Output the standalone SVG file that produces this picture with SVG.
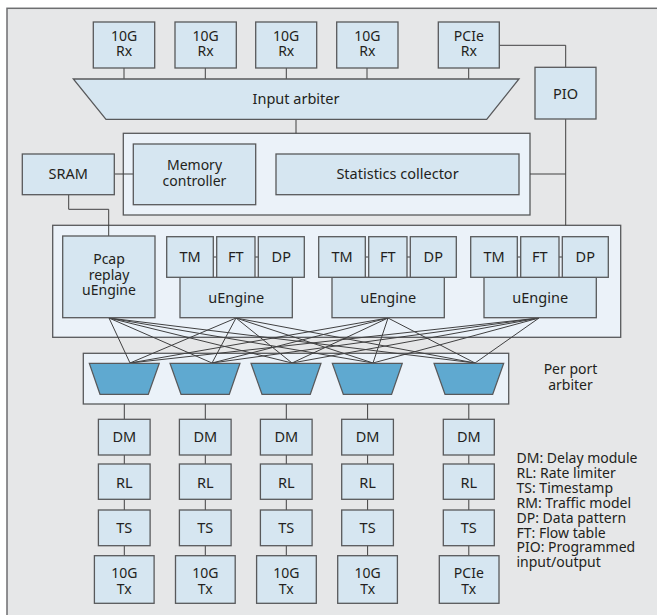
<svg xmlns="http://www.w3.org/2000/svg" width="657" height="615" viewBox="0 0 657 615">
<style>
.bg{fill:#e6e7e8;stroke:#6d6e70;stroke-width:1.5}
.box{fill:#d6e6f1;stroke:#58595b;stroke-width:1.3}
.panel{fill:#ebf2f9;stroke:#58595b;stroke-width:1.3}
.trap{fill:#5fa9d0;stroke:#58595b;stroke-width:1.2}
.t{font-family:"Noto Sans","Open Sans",sans-serif;font-size:14.5px;fill:#231f20;text-anchor:middle}
.m{font-size:14px}
.lg{font-family:"Noto Sans","Open Sans",sans-serif;font-size:14px;fill:#231f20}
.c line,.c path{stroke:#404041;stroke-width:1;fill:none}
</style>
<rect width="657" height="615" fill="#ffffff"/>
<rect class="bg" x="7" y="8.3" width="660" height="620"/>

<!-- panels -->
<g id="stats-block"><rect class="panel" x="123.3" y="133.3" width="406.7" height="81.7"/></g>
<g id="engine-block"><rect class="panel" x="52.7" y="225.3" width="568" height="112"/></g>
<g id="port-arbiter-block"><rect class="panel" x="83.3" y="353.3" width="425.4" height="50.7"/></g>

<!-- connectors -->
<g class="c" id="connectors">
  <line x1="124" y1="68" x2="124" y2="79"/>
  <line x1="205.3" y1="68" x2="205.3" y2="79"/>
  <line x1="286.3" y1="68" x2="286.3" y2="79"/>
  <line x1="367" y1="68" x2="367" y2="79"/>
  <line x1="468.7" y1="68" x2="468.7" y2="79"/>
  <path d="M499.3 45.3H565.7V67.3"/>
  <line x1="565.7" y1="119" x2="565.7" y2="225.3"/>
  <line x1="530" y1="174" x2="565.7" y2="174"/>
  <line x1="296" y1="119.3" x2="296" y2="133.3"/>
  <line x1="114.3" y1="174" x2="133.3" y2="174"/>
  <path d="M68.7 194.7V209.3H108.7V236"/>
  <!-- TM-FT-DP ticks -->
  <line x1="213.3" y1="257" x2="216.7" y2="257"/><line x1="255" y1="257" x2="258.3" y2="257"/>
  <line x1="365.3" y1="257" x2="368.7" y2="257"/><line x1="407" y1="257" x2="410.3" y2="257"/>
  <line x1="517.3" y1="257" x2="520.7" y2="257"/><line x1="559" y1="257" x2="562.3" y2="257"/>
  <!-- crossbar -->
  <path d="M109 318L130 363M109 318L212 363M109 318L292 363M109 318L373 363M109 318L475 363"/>
  <path d="M236 318L130 363M236 318L212 363M236 318L292 363M236 318L373 363M236 318L475 363"/>
  <path d="M388 318L130 363M388 318L212 363M388 318L292 363M388 318L373 363M388 318L475 363"/>
  <path d="M539 318L130 363M539 318L212 363M539 318L292 363M539 318L373 363M539 318L475 363"/>
  <!-- Tx columns -->
  <path d="M124.3 404V419.3M124.3 455V464M124.3 499.3V510M124.3 545.7V555.7"/>
  <path d="M205.3 404V419.3M205.3 455V464M205.3 499.3V510M205.3 545.7V555.7"/>
  <path d="M286.3 404V419.3M286.3 455V464M286.3 499.3V510M286.3 545.7V555.7"/>
  <path d="M367.6 404V419.3M367.6 455V464M367.6 499.3V510M367.6 545.7V555.7"/>
  <path d="M468.8 404V419.3M468.8 455V464M468.8 499.3V510M468.8 545.7V555.7"/>
</g>

<!-- Rx -->
<g id="rx1"><rect class="box" x="93.3" y="22" width="61.4" height="46"/><text class="t m" x="124" y="41">10G</text><text class="t m" x="124" y="56">Rx</text></g>
<g id="rx2"><rect class="box" x="175" y="22" width="61.3" height="46"/><text class="t m" x="205.6" y="41">10G</text><text class="t m" x="205.6" y="56">Rx</text></g>
<g id="rx3"><rect class="box" x="255.7" y="22" width="61" height="46"/><text class="t m" x="286.2" y="41">10G</text><text class="t m" x="286.2" y="56">Rx</text></g>
<g id="rx4"><rect class="box" x="336.7" y="22" width="61.3" height="46"/><text class="t m" x="367.3" y="41">10G</text><text class="t m" x="367.3" y="56">Rx</text></g>
<g id="rx5"><rect class="box" x="438.3" y="22" width="61" height="46"/><text class="t m" x="468.8" y="41">PCIe</text><text class="t m" x="468.8" y="56">Rx</text></g>

<g id="input-arbiter"><polygon class="box" points="73.3,79 519,79 486.7,119.3 106,119.3"/><text class="t" x="296" y="104">Input arbiter</text></g>
<g id="pio"><rect class="box" x="535" y="67.3" width="61" height="51.7"/><text class="t" x="565.5" y="98.5">PIO</text></g>
<g id="sram"><rect class="box" x="22.3" y="154" width="92" height="40.7"/><text class="t" x="68.3" y="179">SRAM</text></g>
<g id="memory-controller"><rect class="box" x="133.3" y="144" width="122.4" height="60.7"/><text class="t m" x="194.5" y="170">Memory</text><text class="t m" x="194.5" y="185.5">controller</text></g>
<g id="statistics-collector"><rect class="box" x="276" y="154" width="243" height="40.7"/><text class="t" x="397.5" y="179">Statistics collector</text></g>

<g id="pcap"><rect class="box" x="62.7" y="236" width="92.3" height="81.7"/><text class="t m" x="109" y="264">Pcap</text><text class="t m" x="109" y="279.5">replay</text><text class="t m" x="109" y="295">uEngine</text></g>

<g id="uengine1">
  <rect class="box" x="180" y="277.3" width="112.3" height="40.4"/>
  <rect class="box" x="166.7" y="236.7" width="46.6" height="40.6"/>
  <rect class="box" x="216.7" y="236.7" width="38.3" height="40.6"/>
  <rect class="box" x="258.3" y="236.7" width="46" height="40.6"/>
  <text class="t" x="190" y="262">TM</text><text class="t" x="235.8" y="262">FT</text><text class="t" x="281.3" y="262">DP</text>
  <text class="t" x="236.2" y="303">uEngine</text>
</g>
<g id="uengine2">
  <rect class="box" x="332" y="277.3" width="112.3" height="40.4"/>
  <rect class="box" x="318.7" y="236.7" width="46.6" height="40.6"/>
  <rect class="box" x="368.7" y="236.7" width="38.3" height="40.6"/>
  <rect class="box" x="410.3" y="236.7" width="46" height="40.6"/>
  <text class="t" x="342" y="262">TM</text><text class="t" x="387.8" y="262">FT</text><text class="t" x="433.3" y="262">DP</text>
  <text class="t" x="388.2" y="303">uEngine</text>
</g>
<g id="uengine3">
  <rect class="box" x="484" y="277.3" width="112.3" height="40.4"/>
  <rect class="box" x="470.7" y="236.7" width="46.6" height="40.6"/>
  <rect class="box" x="520.7" y="236.7" width="38.3" height="40.6"/>
  <rect class="box" x="562.3" y="236.7" width="46" height="40.6"/>
  <text class="t" x="494" y="262">TM</text><text class="t" x="539.8" y="262">FT</text><text class="t" x="585.3" y="262">DP</text>
  <text class="t" x="540.2" y="303">uEngine</text>
</g>

<!-- per port arbiters -->
<g id="pa1"><polygon class="trap" points="89.3,363.3 159.3,363.3 148.3,394.3 100,394.3"/></g>
<g id="pa2"><polygon class="trap" points="170,363.3 240,363.3 229.3,394.3 181,394.3"/></g>
<g id="pa3"><polygon class="trap" points="251,363.3 321,363.3 310.3,394.3 262,394.3"/></g>
<g id="pa4"><polygon class="trap" points="332.3,363.3 402.3,363.3 391.6,394.3 343.3,394.3"/></g>
<g id="pa5"><polygon class="trap" points="434,363.3 503.7,363.3 492.7,394.3 445,394.3"/></g>
<g id="per-port-label"><text class="t m" x="570.5" y="374">Per port</text><text class="t m" x="570.5" y="389.5">arbiter</text></g>

<!-- Tx columns -->
<g id="col1">
  <rect class="box" x="98.4" y="419.3" width="51.7" height="35.7"/><text class="t" x="124.3" y="442">DM</text>
  <rect class="box" x="98.4" y="464" width="51.7" height="35.3"/><text class="t" x="124.3" y="487.5">RL</text>
  <rect class="box" x="98.4" y="510" width="51.7" height="35.7"/><text class="t" x="124.3" y="533">TS</text>
  <rect class="box" x="94.4" y="555.7" width="59.7" height="47.6"/><text class="t m" x="124.3" y="578">10G</text><text class="t m" x="124.3" y="593.5">Tx</text>
</g>
<g id="col2">
  <rect class="box" x="179.4" y="419.3" width="51.7" height="35.7"/><text class="t" x="205.3" y="442">DM</text>
  <rect class="box" x="179.4" y="464" width="51.7" height="35.3"/><text class="t" x="205.3" y="487.5">RL</text>
  <rect class="box" x="179.4" y="510" width="51.7" height="35.7"/><text class="t" x="205.3" y="533">TS</text>
  <rect class="box" x="175.5" y="555.7" width="59.7" height="47.6"/><text class="t m" x="205.3" y="578">10G</text><text class="t m" x="205.3" y="593.5">Tx</text>
</g>
<g id="col3">
  <rect class="box" x="260.4" y="419.3" width="51.7" height="35.7"/><text class="t" x="286.3" y="442">DM</text>
  <rect class="box" x="260.4" y="464" width="51.7" height="35.3"/><text class="t" x="286.3" y="487.5">RL</text>
  <rect class="box" x="260.4" y="510" width="51.7" height="35.7"/><text class="t" x="286.3" y="533">TS</text>
  <rect class="box" x="256.6" y="555.7" width="59.7" height="47.6"/><text class="t m" x="286.3" y="578">10G</text><text class="t m" x="286.3" y="593.5">Tx</text>
</g>
<g id="col4">
  <rect class="box" x="341.7" y="419.3" width="51.7" height="35.7"/><text class="t" x="367.6" y="442">DM</text>
  <rect class="box" x="341.7" y="464" width="51.7" height="35.3"/><text class="t" x="367.6" y="487.5">RL</text>
  <rect class="box" x="341.7" y="510" width="51.7" height="35.7"/><text class="t" x="367.6" y="533">TS</text>
  <rect class="box" x="337.7" y="555.7" width="59.7" height="47.6"/><text class="t m" x="367.6" y="578">10G</text><text class="t m" x="367.6" y="593.5">Tx</text>
</g>
<g id="col5">
  <rect class="box" x="443.3" y="419.3" width="51" height="35.7"/><text class="t" x="468.8" y="442">DM</text>
  <rect class="box" x="443.3" y="464" width="51" height="35.3"/><text class="t" x="468.8" y="487.5">RL</text>
  <rect class="box" x="443.3" y="510" width="51" height="35.7"/><text class="t" x="468.8" y="533">TS</text>
  <rect class="box" x="439.3" y="555.7" width="59.7" height="47.6"/><text class="t m" x="468.8" y="578">PCIe</text><text class="t m" x="468.8" y="593.5">Tx</text>
</g>

<g id="legend">
  <text class="lg" x="516.5" y="463">DM: Delay module</text>
  <text class="lg" x="516.5" y="477.9">RL: Rate limiter</text>
  <text class="lg" x="516.5" y="492.8">TS: Timestamp</text>
  <text class="lg" x="516.5" y="507.7">RM: Traffic model</text>
  <text class="lg" x="516.5" y="522.6">DP: Data pattern</text>
  <text class="lg" x="516.5" y="537.5">FT: Flow table</text>
  <text class="lg" x="516.5" y="552.4">PIO: Programmed</text>
  <text class="lg" x="516.5" y="567.3">input/output</text>
</g>
</svg>
